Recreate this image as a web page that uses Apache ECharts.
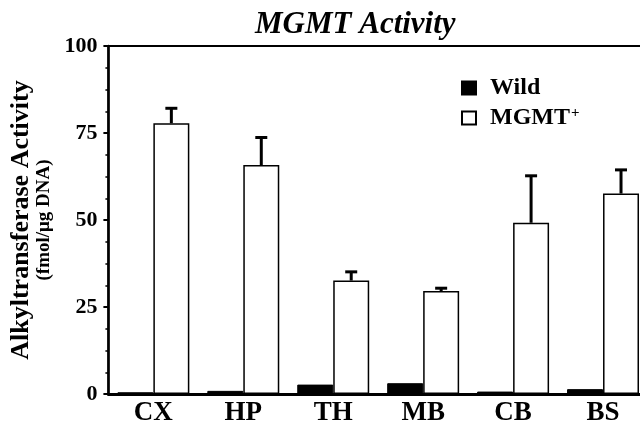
<!DOCTYPE html>
<html>
<head>
<meta charset="utf-8">
<script src="https://cdn.jsdelivr.net/npm/echarts@6/dist/echarts.min.js"></script>
<style>html,body{margin:0;padding:0;background:#fff;overflow:hidden;}#chart{width:660px;height:435px;}</style>
</head>
<body>
<div id="chart"></div>
<script>
var categories = ['CX', 'HP', 'TH', 'MB', 'CB', 'BS'];
var wildValues = [0.5, 0.9, 2.7, 3.1, 0.7, 1.4];
var mgmtValues = [77.8, 65.8, 32.6, 29.6, 49.2, 57.6];
var mgmtErrorTop = [82.1, 73.7, 35.1, 30.4, 62.7, 64.4];
var yTicks = [0, 25, 50, 75, 100];

var serif = '"Liberation Serif", "Times New Roman", serif';
var chart = echarts.init(document.getElementById('chart'));

var errorData = categories.map(function (c, i) { return [i, mgmtValues[i], mgmtErrorTop[i]]; });

chart.setOption({
  animation: false,
  backgroundColor: '#fff',
  title: {
    text: 'MGMT Activity',
    left: 250, top: 4,
    textStyle: { fontFamily: serif, fontSize: 31, fontWeight: 'bold', fontStyle: 'italic', color: '#000' }
  },
  legend: {
    orient: 'vertical',
    left: 456, top: 71,
    icon: 'rect',
    itemWidth: 14, itemHeight: 13, itemGap: 6,
    data: ['Wild', 'MGMT+'],
    formatter: function (n) { return n === 'MGMT+' ? 'MGMT{sup|+}' : n; },
    textStyle: {
      fontFamily: serif, fontSize: 24, fontWeight: 'bold', color: '#000', padding: [0, 0, 0, 9],
      rich: { sup: { fontFamily: serif, fontSize: 15, fontWeight: 'bold', color: '#000', verticalAlign: 'top', padding: [0, 0, 8, 1] } }
    }
  },
  grid: { left: 102, top: 46, right: 12, bottom: 41, show: true, borderColor: '#000', borderWidth: 2, backgroundColor: 'transparent' },
  xAxis: {
    type: 'category',
    data: categories,
    axisLine: { lineStyle: { color: '#000', width: 3 } },
    axisTick: { alignWithLabel: true, length: 7, lineStyle: { color: '#000', width: 2 } },
    axisLabel: { margin: 6, fontFamily: serif, fontSize: 27, fontWeight: 'bold', color: '#000' },
    splitLine: { show: false }
  },
  yAxis: {
    type: 'value',
    min: 0, max: 100, interval: 25,
    name: '{a|Alkyltransferase Activity}\n{b|(fmol/μg DNA)}',
    nameLocation: 'middle',
    nameRotate: 90,
    nameGap: 42,
    nameTextStyle: {
      color: '#000',
      rich: {
        a: { fontFamily: serif, fontSize: 26, fontWeight: 'bold', color: '#000', lineHeight: 24 },
        b: { fontFamily: serif, fontSize: 19, fontWeight: 'bold', color: '#000', lineHeight: 22 }
      }
    },
    axisLine: { show: true, lineStyle: { color: '#000', width: 2.5 } },
    axisTick: { show: true, length: 5, lineStyle: { color: '#000', width: 2 } },
    minorTick: { show: true, splitNumber: 4, length: 3, lineStyle: { color: '#000', width: 1.5 } },
    axisLabel: {
      margin: 11, fontFamily: serif, fontSize: 22, fontWeight: 'bold', color: '#000',
      formatter: function (v) { return yTicks.indexOf(v) >= 0 ? String(v) : ''; }
    },
    splitLine: { show: false }
  },
  series: [
    {
      name: 'Wild', type: 'bar', data: wildValues,
      barWidth: '40%', barGap: '0%',
      itemStyle: { color: '#000', borderColor: '#000', borderWidth: 1 }
    },
    {
      name: 'MGMT+', type: 'bar', data: mgmtValues,
      barWidth: '40%', barGap: '0%',
      itemStyle: { color: '#fff', borderColor: '#000', borderWidth: 1.5 }
    },
    {
      name: 'err', type: 'custom', data: errorData, z: 1,
      renderItem: function (params, api) {
        var i = api.value(0);
        var base = api.coord([i, api.value(1)]);
        var top = api.coord([i, api.value(2)]);
        var bw = api.size([1, 0])[0];
        var x = base[0] + bw * 0.2;
        var half = 6;
        return {
          type: 'group',
          children: [
            { type: 'line', shape: { x1: x, y1: base[1], x2: x, y2: top[1] }, style: { stroke: '#000', lineWidth: 3 } },
            { type: 'line', shape: { x1: x - half, y1: top[1], x2: x + half, y2: top[1] }, style: { stroke: '#000', lineWidth: 3 } }
          ]
        };
      },
      encode: { x: 0, y: 2 },
      silent: true
    }
  ]
});
</script>
</body>
</html>
